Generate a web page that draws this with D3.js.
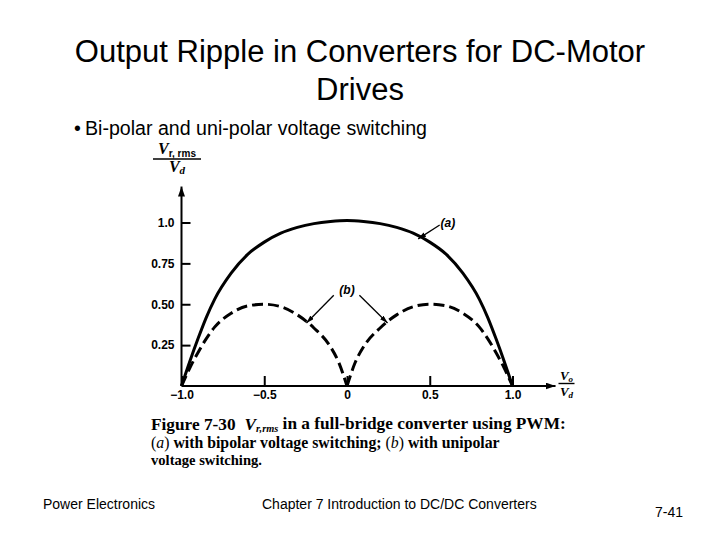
<!DOCTYPE html>
<html>
<head>
<meta charset="utf-8">
<script src="https://cdn.jsdelivr.net/npm/d3@7"></script>
<style>
  body { margin: 0; background: #fff; }
</style>
</head>
<body>
<script>
// values (Vo/Vd -> Vr,rms/Vd)
const dutyA = [-1, -0.95, -0.9, -0.85, -0.8, -0.7, -0.6, -0.5, -0.4, -0.3, -0.2, -0.1, 0,
  0.1, 0.2, 0.3, 0.4, 0.5, 0.6, 0.7, 0.8, 0.85, 0.9, 0.95, 1];
const rippleA = [0, 0.15, 0.29, 0.42, 0.53, 0.69, 0.805, 0.88, 0.935, 0.97, 0.993, 1.006, 1.012,
  1.006, 0.993, 0.97, 0.935, 0.88, 0.805, 0.69, 0.53, 0.42, 0.29, 0.15, 0];

const dutyB = [-1, -0.95, -0.9, -0.85, -0.8, -0.7, -0.6, -0.5, -0.4, -0.3, -0.2, -0.1, -0.05, 0,
  0.05, 0.1, 0.2, 0.3, 0.4, 0.5, 0.6, 0.7, 0.8, 0.85, 0.9, 0.95, 1];
const rippleB = [0, 0.11, 0.205, 0.29, 0.36, 0.445, 0.49, 0.5, 0.485, 0.435, 0.355, 0.24, 0.145, 0,
  0.145, 0.24, 0.355, 0.435, 0.485, 0.5, 0.49, 0.445, 0.36, 0.29, 0.205, 0.11, 0];

const xTicks = [-1, -0.5, 0, 0.5, 1];
const xTickLabels = ["\u22121.0", "\u22120.5", "0", "0.5", "1.0"];
const yTicks = [0.25, 0.5, 0.75, 1.0];
const yTickLabels = ["0.25", "0.50", "0.75", "1.0"];

// callouts in data units: label position, arrow start -> arrow tip
const callouts = [
  { label: "(a)", at: [0.61, 1.0], arrows: [[[0.56, 0.985], [0.43, 0.9]]] },
  { label: "(b)", at: [0.0, 0.59], arrows: [[[-0.08, 0.555], [-0.245, 0.385]], [[0.075, 0.555], [0.245, 0.385]]] }
];

const width = 720;
const height = 540;

const svg = d3.select("body")
  .append("svg")
  .attr("width", width)
  .attr("height", height)
  .style("background", "#fff");

const x = d3.scaleLinear().domain([-1, 1]).range([181.5, 512.5]);
const y = d3.scaleLinear().domain([0, 1]).range([386, 222.5]);

const defs = svg.append("defs");
defs.append("marker")
  .attr("id", "axisHead")
  .attr("viewBox", "0 0 10 7")
  .attr("refX", 10).attr("refY", 3.5)
  .attr("markerWidth", 10).attr("markerHeight", 7)
  .attr("markerUnits", "userSpaceOnUse")
  .attr("orient", "auto")
  .append("path").attr("d", "M0,0L10,3.5L0,7Z").attr("fill", "#000");
defs.append("marker")
  .attr("id", "callHead")
  .attr("viewBox", "0 0 8 5")
  .attr("refX", 8).attr("refY", 2.5)
  .attr("markerWidth", 8).attr("markerHeight", 5)
  .attr("markerUnits", "userSpaceOnUse")
  .attr("orient", "auto")
  .append("path").attr("d", "M0,0L8,2.5L0,5Z").attr("fill", "#000");

// Slide title + bullet
const sans = "'Liberation Sans', Arial, sans-serif";
svg.append("text")
  .attr("x", 360).attr("y", 62)
  .attr("text-anchor", "middle")
  .style("font-family", sans).style("font-size", "31px")
  .text("Output Ripple in Converters for DC-Motor");
svg.append("text")
  .attr("x", 360).attr("y", 100)
  .attr("text-anchor", "middle")
  .style("font-family", sans).style("font-size", "31px")
  .text("Drives");

const bullet = svg.append("text")
  .attr("y", 135)
  .style("font-family", sans).style("font-size", "19.6px");
bullet.append("tspan").attr("x", 74).text("\u2022");
bullet.append("tspan").attr("x", 85).text("Bi-polar and uni-polar voltage switching");

// Axes
const plot = svg.append("g");

plot.append("line")
  .attr("x1", x(-1)).attr("y1", y(0))
  .attr("x2", x(-1)).attr("y2", y(1.22))
  .attr("stroke", "#000").attr("stroke-width", 2)
  .attr("marker-end", "url(#axisHead)");
plot.append("line")
  .attr("x1", x(-1)).attr("y1", y(0))
  .attr("x2", x(1.26)).attr("y2", y(0))
  .attr("stroke", "#000").attr("stroke-width", 2)
  .attr("marker-end", "url(#axisHead)");

const yAxis = d3.axisLeft(y)
  .tickValues(yTicks)
  .tickFormat((d) => yTickLabels[yTicks.indexOf(d)])
  .tickSize(-9)
  .tickPadding(7);

const xAxis = d3.axisBottom(x)
  .tickValues(xTicks)
  .tickFormat((d) => xTickLabels[xTicks.indexOf(d)])
  .tickSize(-10)
  .tickPadding(4);

function styleAxis(g) {
  g.select(".domain").remove();
  g.selectAll(".tick line").attr("stroke", "#000").attr("stroke-width", 2);
  g.selectAll(".tick text")
    .attr("fill", "#000")
    .style("font-family", sans)
    .style("font-size", "12px")
    .style("font-weight", "bold");
}

plot.append("g")
  .attr("transform", `translate(${x(-1)},0)`)
  .call(yAxis)
  .call(styleAxis);

plot.append("g")
  .attr("transform", `translate(0,${y(0)})`)
  .call(xAxis)
  .call(styleAxis);

// axis titles (fractions)
const serif = "'Liberation Serif', 'Times New Roman', serif";
function fraction(cx, lineY, topParts, botParts, lineW, gapTop, gapBot) {
  const g = plot.append("g");
  const top = g.append("text")
    .attr("x", cx).attr("y", lineY - gapTop)
    .attr("text-anchor", "middle")
    .style("font-family", serif).style("font-weight", "bold");
  topParts(top);
  g.append("line")
    .attr("x1", cx - lineW / 2).attr("x2", cx + lineW / 2)
    .attr("y1", lineY).attr("y2", lineY)
    .attr("stroke", "#000").attr("stroke-width", 1.4);
  const bot = g.append("text")
    .attr("x", cx).attr("y", lineY + gapBot)
    .attr("text-anchor", "middle")
    .style("font-family", serif).style("font-weight", "bold");
  botParts(bot);
}

fraction(177, 159,
  (t) => {
    t.append("tspan").style("font-style", "italic").style("font-size", "16px").text("V");
    t.append("tspan").attr("dy", 3).style("font-family", sans).style("font-size", "10px").text("r, rms");
  },
  (t) => {
    t.append("tspan").style("font-style", "italic").style("font-size", "16px").text("V");
    t.append("tspan").attr("dy", 2).style("font-style", "italic").style("font-size", "11px").text("d");
  }, 48, 5, 13);

fraction(566.5, 383.5,
  (t) => {
    t.append("tspan").style("font-style", "italic").style("font-size", "13px").text("V");
    t.append("tspan").attr("dy", 2).style("font-style", "italic").style("font-size", "9px").text("o");
  },
  (t) => {
    t.append("tspan").style("font-style", "italic").style("font-size", "13px").text("V");
    t.append("tspan").attr("dy", 2).style("font-style", "italic").style("font-size", "9px").text("d");
  }, 16, 4, 12);

// Curves
const line = d3.line()
  .x((d) => x(d[0]))
  .y((d) => y(d[1]))
  .curve(d3.curveMonotoneX);

const ptsA = d3.zip(dutyA, rippleA);
const ptsB = d3.zip(dutyB, rippleB);
const lobesB = [ptsB.filter((d) => d[0] <= 0), ptsB.filter((d) => d[0] >= 0)];

plot.append("path")
  .datum(ptsA)
  .attr("d", line)
  .attr("fill", "none")
  .attr("stroke", "#000")
  .attr("stroke-width", 3);

plot.selectAll("path.lobe")
  .data(lobesB)
  .join("path")
  .attr("class", "lobe")
  .attr("d", line)
  .attr("fill", "none")
  .attr("stroke", "#000")
  .attr("stroke-width", 3)
  .attr("stroke-dasharray", "11,5");

// Callouts
callouts.forEach((c) => {
  plot.append("text")
    .attr("x", x(c.at[0])).attr("y", y(c.at[1]))
    .attr("dy", "0.35em")
    .attr("text-anchor", "middle")
    .style("font-family", sans)
    .style("font-size", "12px")
    .style("font-weight", "bold")
    .style("font-style", "italic")
    .text(c.label);
  c.arrows.forEach((a) => {
    plot.append("line")
      .attr("x1", x(a[0][0])).attr("y1", y(a[0][1]))
      .attr("x2", x(a[1][0])).attr("y2", y(a[1][1]))
      .attr("stroke", "#000").attr("stroke-width", 1.3)
      .attr("marker-end", "url(#callHead)");
  });
});

// Figure caption: each line is sized so that it spans the same width as in the scan
function fitWidth(sel, target) {
  const base = 15;
  sel.style("font-size", base + "px");
  const w = sel.node().getComputedTextLength();
  sel.style("font-size", (base * target / w).toFixed(2) + "px");
}

const cap = svg.append("g")
  .style("font-family", serif)
  .style("font-weight", "bold")
  .attr("fill", "#000");

const l1 = cap.append("text").attr("x", 151).attr("y", 430);
l1.append("tspan").text("Figure 7-30");
l1.append("tspan").attr("dx", 9).style("font-style", "italic").text("V");
l1.append("tspan").attr("dy", "0.2em").style("font-size", "0.6em").style("font-style", "italic").text("r,rms");
l1.append("tspan").attr("dy", "-0.2em").text(" in a full-bridge converter using PWM:");
fitWidth(l1, 406);

const l2 = cap.append("text").attr("x", 151).attr("y", 448);
l2.append("tspan").style("font-weight", "normal").text("(");
l2.append("tspan").style("font-weight", "normal").style("font-style", "italic").text("a");
l2.append("tspan").style("font-weight", "normal").text(")");
l2.append("tspan").text(" with bipolar voltage switching; ");
l2.append("tspan").style("font-weight", "normal").text("(");
l2.append("tspan").style("font-weight", "normal").style("font-style", "italic").text("b");
l2.append("tspan").style("font-weight", "normal").text(")");
l2.append("tspan").text(" with unipolar");
fitWidth(l2, 349);

const l3 = cap.append("text").attr("x", 151).attr("y", 465).text("voltage switching.");
fitWidth(l3, 111);

// Footer
svg.append("text")
  .attr("x", 43).attr("y", 509)
  .style("font-family", sans).style("font-size", "14px")
  .text("Power Electronics");
svg.append("text")
  .attr("x", 262).attr("y", 509)
  .style("font-family", sans).style("font-size", "14px")
  .text("Chapter 7 Introduction to DC/DC Converters");
svg.append("text")
  .attr("x", 655).attr("y", 517)
  .style("font-family", sans).style("font-size", "14px")
  .text("7-41");
</script>
</body>
</html>
